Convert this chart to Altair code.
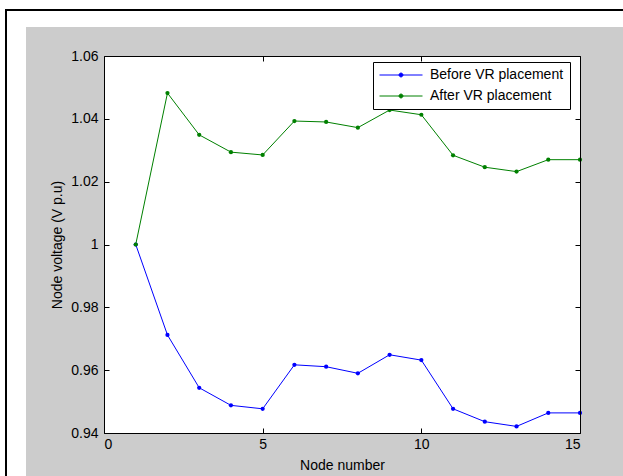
import altair as alt
import pandas as pd

# ---- data ----
nodes = list(range(1, 16))
before_vr = [1.0, 0.9712, 0.9544, 0.9488, 0.9477, 0.9617, 0.9611, 0.9590,
             0.9649, 0.9632, 0.9477, 0.9436, 0.9421, 0.9464, 0.9464]
after_vr = [1.0, 1.0482, 1.0349, 1.0294, 1.0285, 1.0393, 1.0390, 1.0372,
            1.0428, 1.0413, 1.0284, 1.0246, 1.0232, 1.0270, 1.0270]
series_names = ["Before VR placement", "After VR placement"]
series_colors = ["#0000ff", "#008000"]
x_ticks = [0, 5, 10, 15]
y_ticks = [0.94, 0.96, 0.98, 1.0, 1.02, 1.04, 1.06]
x_title = "Node number"
y_title = "Node voltage (V p.u)"

W, H = 476, 377
PAD_L, PAD_T, PAD_R, PAD_B = 104, 56, 43, 43
FONT = "Liberation Sans"
FS = 14
GRAY = "#cccccc"

df = pd.DataFrame({
    "node": nodes * 2,
    "voltage": before_vr + after_vr,
    "series": [series_names[0]] * len(nodes) + [series_names[1]] * len(nodes),
})
one = pd.DataFrame({"k": [0]})

xs = alt.Scale(domain=[0, 15], nice=False, zero=False)
ys = alt.Scale(domain=[0.94, 1.06], nice=False, zero=False)

# figure background (gray panel) and outer frame
bg = alt.Chart(one).mark_rect(color=GRAY).encode(
    x=alt.value(26 - PAD_L), x2=alt.value(W + PAD_R),
    y=alt.value(27 - PAD_T), y2=alt.value(H + PAD_B),
)
frame = alt.Chart(one).mark_rect(filled=False, stroke="black", strokeWidth=2).encode(
    x=alt.value(6 - PAD_L), x2=alt.value(W + PAD_R + 20),
    y=alt.value(10 - PAD_T), y2=alt.value(H + PAD_B + 20),
)
plot_bg = alt.Chart(one).mark_rect(color="white").encode(
    x=alt.value(0), x2=alt.value(W), y=alt.value(0), y2=alt.value(H),
)

common = dict(grid=False, zindex=1, domainColor="black", tickColor="black",
              labelFont=FONT, labelFontSize=FS, labelColor="black",
              titleFont=FONT, titleFontSize=FS, titleColor="black",
              titleFontWeight="normal")

# inward ticks at bottom and left edges
tk_a = alt.Chart(df).mark_point(opacity=0).encode(
    x=alt.X("node:Q", scale=xs, axis=alt.Axis(
        orient="top", offset=-H, values=x_ticks, labels=False, domain=False,
        ticks=True, tickSize=5, title=None, **common)),
    y=alt.Y("voltage:Q", scale=ys, axis=alt.Axis(
        orient="right", offset=-W, values=y_ticks, labels=False, domain=False,
        ticks=True, tickSize=5, title=None, **common)),
)
# top and right box edges with inward ticks
tk_b = alt.Chart(df).mark_point(opacity=0).encode(
    x=alt.X("node:Q", scale=xs, axis=alt.Axis(
        orient="bottom", offset=-H, values=x_ticks, labels=False, domain=True,
        ticks=True, tickSize=5, title=None, **common)),
    y=alt.Y("voltage:Q", scale=ys, axis=alt.Axis(
        orient="left", offset=-W, values=y_ticks, labels=False, domain=True,
        ticks=True, tickSize=5, title=None, **common)),
)

legend_symbol = ("M-1,0L1,0M-0.09,0A0.09,0.09 0 1,0 0.09,0"
                 "A0.09,0.09 0 1,0 -0.09,0")

lines = alt.Chart(df).mark_line(
    strokeWidth=1, point=alt.OverlayMarkDef(filled=True, size=18)
).encode(
    x=alt.X("node:Q", scale=xs, axis=alt.Axis(
        orient="bottom", values=x_ticks, ticks=False, tickSize=0, domain=True,
        labelPadding=4, title=x_title, titleBaseline="alphabetic", titleY=36,
        **common)),
    y=alt.Y("voltage:Q", scale=ys, axis=alt.Axis(
        orient="left", values=y_ticks, format=".3~g", ticks=False, tickSize=0,
        domain=True, labelPadding=6, title=y_title, titleX=-47, titleY=H / 2,
        titleAngle=270, titleAlign="center", titleBaseline="middle", **common)),
    color=alt.Color("series:N",
                    scale=alt.Scale(domain=series_names, range=series_colors),
                    legend=alt.Legend(
                        title=None, orient="none", legendX=269, legendY=6,
                        fillColor="white", strokeColor="black", padding=6,
                        labelFont=FONT, labelFontSize=FS, labelColor="black",
                        labelOffset=7, symbolType=legend_symbol,
                        symbolSize=1849, symbolStrokeWidth=1, clipHeight=14,
                        rowPadding=7, zindex=1)),
)

chart = alt.layer(bg, frame, plot_bg, tk_a, tk_b, lines).resolve_axis(
    x="independent", y="independent"
).properties(
    width=W, height=H,
    padding={"left": PAD_L, "top": PAD_T, "right": PAD_R, "bottom": PAD_B},
    autosize=alt.AutoSizeParams(type="none"),
    background="white",
).configure_view(strokeWidth=0)

chart.save("out.html", embed_options={"renderer": "svg", "actions": False})
